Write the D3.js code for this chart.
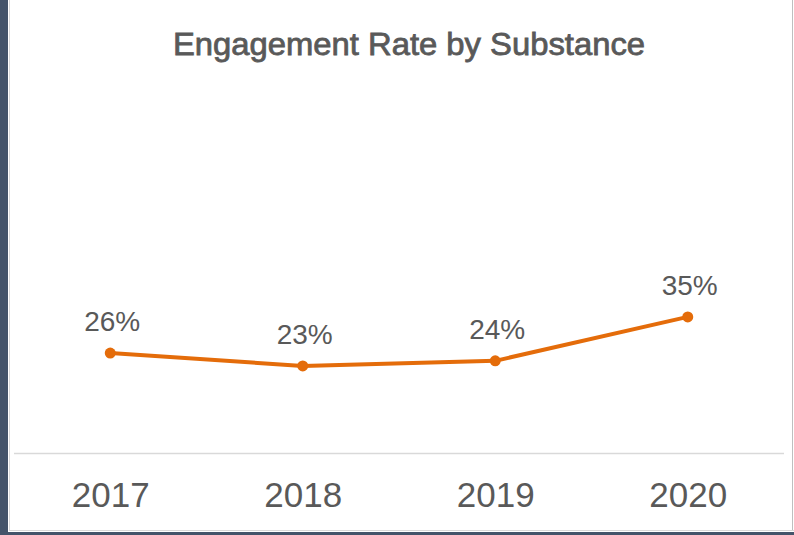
<!DOCTYPE html>
<html>
<head>
<meta charset="utf-8">
<script src="https://cdn.jsdelivr.net/npm/d3@7"></script>
<style>
  body { margin: 0; background: #fff; }
  svg { display: block; }
</style>
</head>
<body>
<svg id="chart"></svg>
<script>
const years = ["2017", "2018", "2019", "2020"];
const rates = [0.257, 0.224, 0.237, 0.35];
const rateLabels = ["26%", "23%", "24%", "35%"];
const title = "Engagement Rate by Substance";

const W = 794, H = 535;
const svg = d3.select("#chart").attr("width", W).attr("height", H);

// frame
svg.append("rect").attr("x", 0).attr("y", 0).attr("width", W).attr("height", H).attr("fill", "#fff");
svg.append("rect").attr("x", 0).attr("y", 0).attr("width", 8).attr("height", H).attr("fill", "#44546a");
svg.append("line").attr("x1", 9.5).attr("x2", 9.5).attr("y1", 0).attr("y2", 531)
  .attr("stroke", "#d9d9d9").attr("stroke-width", 1);
svg.append("line").attr("x1", 792.5).attr("x2", 792.5).attr("y1", 0).attr("y2", 531)
  .attr("stroke", "#bfbfbf").attr("stroke-width", 1);
svg.append("line").attr("x1", 9).attr("x2", W).attr("y1", 530.5).attr("y2", 530.5)
  .attr("stroke", "#d9d9d9").attr("stroke-width", 1);
svg.append("rect").attr("x", 0).attr("y", 532).attr("width", W).attr("height", 3).attr("fill", "#44546a");

const x = d3.scalePoint().domain(years).range([14, 784]).padding(0.5);
const y = d3.scaleLinear().domain([0, 0.9]).range([453, 103]);

// title
svg.append("text")
  .attr("x", 409).attr("y", 55)
  .attr("text-anchor", "middle")
  .attr("fill", "#595959")
  .attr("stroke", "#595959")
  .attr("stroke-width", 0.8)
  .attr("font-family", "'Liberation Sans Narrow', 'Liberation Sans', Arial, sans-serif")
  .attr("font-size", 32)
  .attr("textLength", 472)
  .attr("lengthAdjust", "spacingAndGlyphs")
  .text(title);

// baseline
svg.append("line")
  .attr("x1", 14).attr("x2", 784)
  .attr("y1", y(0) + 0.5).attr("y2", y(0) + 0.5)
  .attr("stroke", "#d9d9d9").attr("stroke-width", 1.5);

// x axis labels
const xAxis = d3.axisBottom(x).tickSize(0).tickPadding(0);
const gx = svg.append("g").attr("transform", `translate(0,${y(0)})`).call(xAxis);
gx.select(".domain").remove();
gx.selectAll("text")
  .attr("dy", null)
  .attr("y", 54)
  .attr("fill", "#595959")
  .attr("font-family", "'Liberation Sans', Arial, sans-serif")
  .attr("font-size", 35);

const data = years.map((d, i) => ({ year: d, v: rates[i], label: rateLabels[i] }));

svg.append("path")
  .datum(data)
  .attr("fill", "none")
  .attr("stroke", "#e46c0a")
  .attr("stroke-width", 4)
  .attr("stroke-linejoin", "round")
  .attr("d", d3.line().x(d => x(d.year)).y(d => y(d.v)));

svg.selectAll(".dot").data(data).enter().append("circle")
  .attr("class", "dot")
  .attr("cx", d => x(d.year)).attr("cy", d => y(d.v))
  .attr("r", 5.5)
  .attr("fill", "#e46c0a");

svg.selectAll(".lbl").data(data).enter().append("text")
  .attr("class", "lbl")
  .attr("x", d => x(d.year) + 2)
  .attr("y", d => y(d.v) - 22)
  .attr("text-anchor", "middle")
  .attr("fill", "#595959")
  .attr("font-family", "'Liberation Sans', Arial, sans-serif")
  .attr("font-size", 28)
  .text(d => d.label);
</script>
</body>
</html>
